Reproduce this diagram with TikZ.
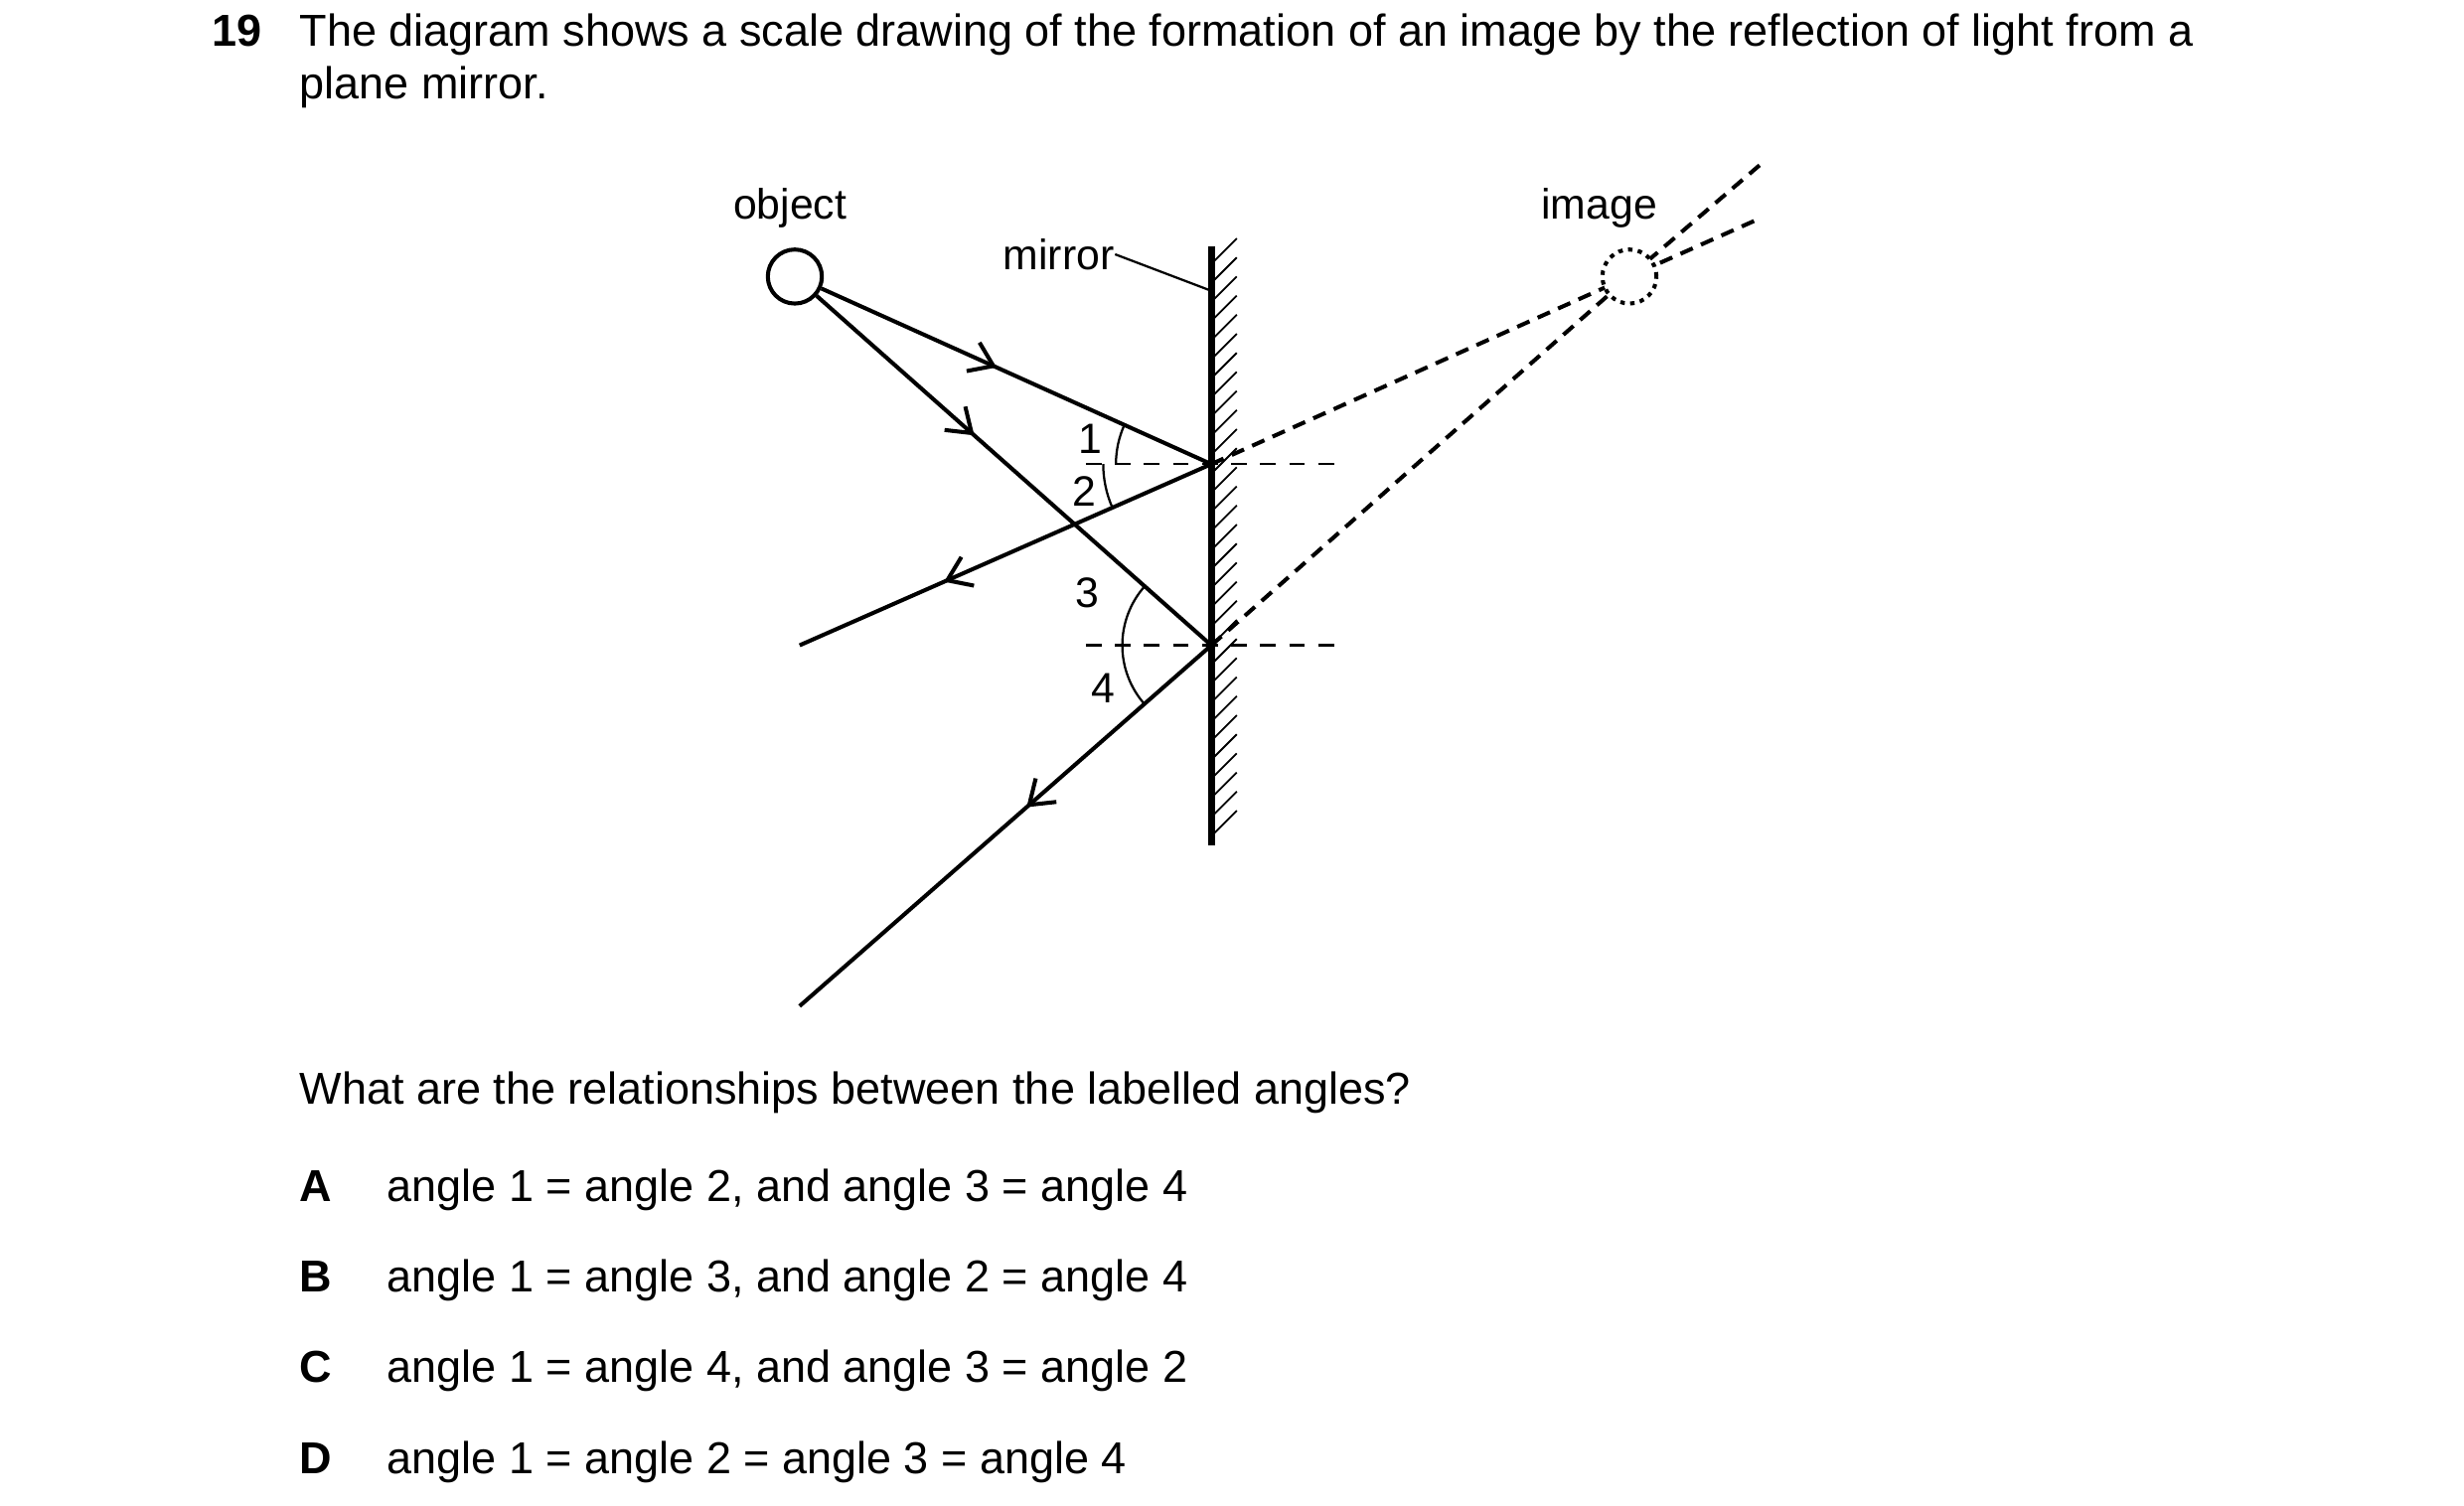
\documentclass[tikz,border=0pt]{standalone}
\usepackage{fontspec}
\setmainfont{Liberation Sans}
\usetikzlibrary{arrows.meta,decorations.markings,calc}

\tikzset{
  ray/.style={line width=0.9pt},
  ray arrow/.style={postaction={decorate},decoration={markings,
    mark=at position #1 with {\arrow{Straight Barb[length=5pt,width=7pt]}}}},
  virtual/.style={line width=0.9pt,dash pattern=on 3pt off 2pt},
  normal/.style={line width=0.5pt,dash pattern=on 3.5pt off 3pt},
  txt/.style={anchor=base west,inner sep=0pt,font=\fontsize{10}{12}\selectfont},
  lbl/.style={inner sep=0pt,font=\fontsize{9.5}{11}\selectfont}
}

\begin{document}
\begin{tikzpicture}[x=0.0125cm,y=-0.0125cm]
\useasboundingbox (0,0) rectangle (1550,947.5);

% question text
\node[txt,font=\fontsize{10}{12}\selectfont\bfseries] (num) at (133,29) {19};
\node[txt] (q1) at (188,29) {The diagram shows a scale drawing of the formation of an image by the reflection of light from a};
\node[txt] (q2) at (188,62) {plane mirror.};

% mirror
\coordinate (mtop) at (762,155);
\coordinate (mbot) at (762,532);
\draw[line width=1.6pt] (mtop) -- (mbot);
\foreach \y in {166,178,...,530}
  \draw[line width=0.4pt] (762,\y) -- ++(16,-16);
\node[lbl] (mlabel) at (666,160) {mirror};
\draw[line width=0.5pt] (mlabel.east) -- (762,183);

% object and image
\node[circle,draw,line width=0.9pt,minimum size=34*0.0125cm,inner sep=0pt] (obj) at (500,174) {};
\node[lbl] (objlabel) at (497,131) {object};
\node[lbl] (imglabel) at (1006,131) {image};
\coordinate (P1) at (762,292);
\coordinate (P2) at (762,406);
\coordinate (img) at (1025,174);
\coordinate (e1) at (1108,137);
\coordinate (e2) at (1108,103);
\coordinate (r1) at (503,406);
\coordinate (r2) at (503,633);

% normals
\draw[normal] (683,292) -- (840,292);
\draw[normal] (683,406) -- (840,406);

% rays
\draw[ray,ray arrow=0.45] (obj) -- (P1);
\draw[ray,ray arrow=0.4] (obj) -- (P2);
\draw[ray,ray arrow=0.65] (P1) -- (r1);
\draw[ray,ray arrow=0.45] (P2) -- (r2);

% virtual rays
\draw[virtual] (P1) -- (img) -- (e1);
\draw[virtual] (P2) -- (img) -- (e2);
\node[circle,draw,fill=white,line width=0.9pt,dash pattern=on 1pt off 1.2pt,minimum size=34*0.0125cm,inner sep=0pt] (image) at (img) {};

% angles
\draw[line width=0.5pt] ($(P1)+(155.5:0.75cm)$) arc (155.5:180:0.75cm);
\draw[line width=0.5pt] ($(P1)+(180:0.85cm)$) arc (180:203.8:0.85cm);
\draw[line width=0.5pt] ($(P2)+(138.9:0.7cm)$) arc (138.9:180:0.7cm);
\draw[line width=0.5pt] ($(P2)+(180:0.7cm)$) arc (180:221.2:0.7cm);
\node[lbl] (a1) at (686,276) {1};
\node[lbl] (a2) at (682,309) {2};
\node[lbl] (a3) at (684,373) {3};
\node[lbl] (a4) at (694,433) {4};

% answers
\node[txt] (q3) at (188,695) {What are the relationships between the labelled angles?};
\foreach \l/\t/\y in {A/{angle 1 = angle 2, and angle 3 = angle 4}/756,
                      B/{angle 1 = angle 3, and angle 2 = angle 4}/813,
                      C/{angle 1 = angle 4, and angle 3 = angle 2}/870,
                      D/{angle 1 = angle 2 = angle 3 = angle 4}/927}{
  \node[txt,font=\fontsize{10}{12}\selectfont\bfseries] (opt\l) at (188,\y) {\l};
  \node[txt] (ans\l) at (243,\y) {\t};
}
\end{tikzpicture}
\end{document}
